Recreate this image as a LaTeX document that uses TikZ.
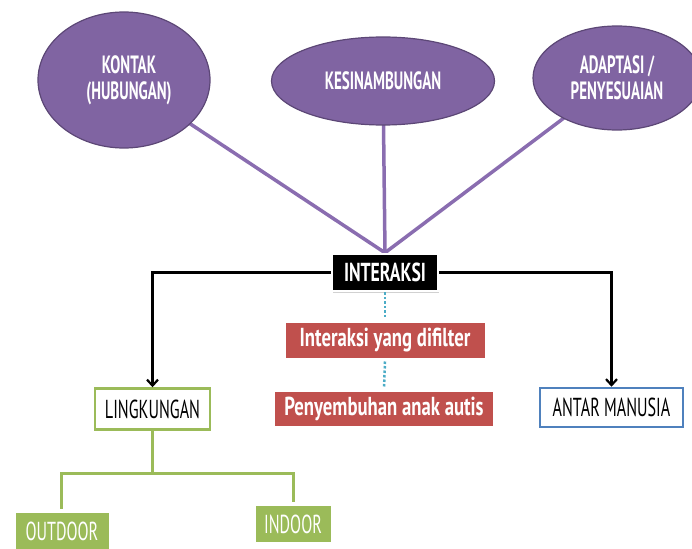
\documentclass[tikz,border=0pt]{standalone}
\usepackage{fontspec}
\setmainfont{PT Sans}
\newfontfamily\fbub[FakeStretch=0.6]{PT Sans}
\newfontfamily\fint[FakeStretch=0.68]{PT Sans}
\newfontfamily\fred[FakeStretch=0.72]{PT Sans}
\newfontfamily\freg[FakeStretch=0.62]{PT Sans}
\usetikzlibrary{arrows.meta,shadows,backgrounds,shapes.geometric}
\definecolor{purp}{HTML}{8064A2}
\definecolor{purpl}{HTML}{8A6DB0}
\definecolor{purpd}{HTML}{5C4776}
\definecolor{redb}{HTML}{C0504D}
\definecolor{greenb}{HTML}{9BBB59}
\definecolor{blueb}{HTML}{4F81BD}
\definecolor{dotb}{HTML}{4BACC6}
\tikzset{
  bubble/.style={ellipse, fill=purp, draw=purpd, line width=1.2pt, text=white, font=\fbub\bfseries\fontsize{25}{26}\selectfont, align=center, inner sep=0pt},
  shad/.style={drop shadow={opacity=0.3, shadow xshift=1.2pt, shadow yshift=-1.5pt, fill=black!60}},
  blackbox/.style={fill=black, draw=white, line width=2.5pt, text=white, font=\fint\bfseries\fontsize{26}{28}\selectfont, shad, minimum width=106pt, minimum height=37pt, inner sep=0pt},
  redbox/.style={fill=redb, draw=white, line width=4pt, text=white, font=\fred\bfseries\fontsize{26}{28}\selectfont, shad, inner sep=0pt},
  outbox/.style={fill=white, line width=2.5pt, text=black, font=\freg\fontsize{26}{28}\selectfont, inner sep=0pt},
  greenbox/.style={fill=greenb, draw=white, line width=4pt, text=white, font=\freg\fontsize{26}{28}\selectfont, shad, inner sep=0pt},
  purpline/.style={draw=purpl, line width=3.5pt},
  arr/.style={draw=black, line width=2.2pt, -{Straight Barb[length=6pt,width=11pt,line width=2.2pt]}},
  gline/.style={draw=greenb, line width=3pt},
  dline/.style={draw=dotb, line width=2.5pt, dotted},
}
\begin{document}
\begin{tikzpicture}[x=1pt,y=-1pt]
\useasboundingbox (0,0) rectangle (692,548);
\node[bubble, minimum width=172pt, minimum height=136pt] (kontak) at (124,80) {\hspace*{10pt}KONTAK\\\hspace*{10pt}(HUBUNGAN)};
\node[bubble, minimum width=223pt, minimum height=88pt] (kesi) at (383,81) {KESINAMBUNGAN};
\node[bubble, minimum width=168pt, minimum height=104pt] (adap) at (617,78) {ADAPTASI /\\PENYESUAIAN};
\node[blackbox] (inter) at (385,272.5) {INTERAKSI};
\node[redbox, minimum width=203pt, minimum height=39pt] (filt) at (385,340) {Interaksi yang difilter};
\node[redbox, minimum width=222pt, minimum height=38pt] (peny) at (384,409) {Penyembuhan anak autis};
\node[outbox, draw=greenb, minimum width=115pt, minimum height=41pt] (ling) at (152.5,409) {LINGKUNGAN};
\node[outbox, draw=blueb, minimum width=143pt, minimum height=39pt] (antar) at (611.5,407.5) {ANTAR MANUSIA};
\node[greenbox, minimum width=97pt, minimum height=40pt] (out) at (62,531) {OUTDOOR};
\node[greenbox, minimum width=79pt, minimum height=40pt] (ind) at (293,524) {INDOOR};
\coordinate (gj) at (152.5,473);
\begin{scope}[on background layer]
\draw[purpline] (kontak.center) -- (inter.north);
\draw[purpline] (kesi.center) -- (inter.north);
\draw[purpline] (adap.center) -- (inter.north);
\end{scope}
\draw[arr] (inter.west) -| (ling.north);
\draw[arr] (inter.east) -| (antar.north);
\draw[dline] (inter.south) -- (filt.north);
\draw[dline] (filt.south) -- (peny.north);
\draw[gline] (ling.south) -- (gj);
\draw[gline] (gj) -| ([xshift=-1pt]out.north);
\draw[gline] (gj) -| (ind.north);
\end{tikzpicture}
\end{document}
